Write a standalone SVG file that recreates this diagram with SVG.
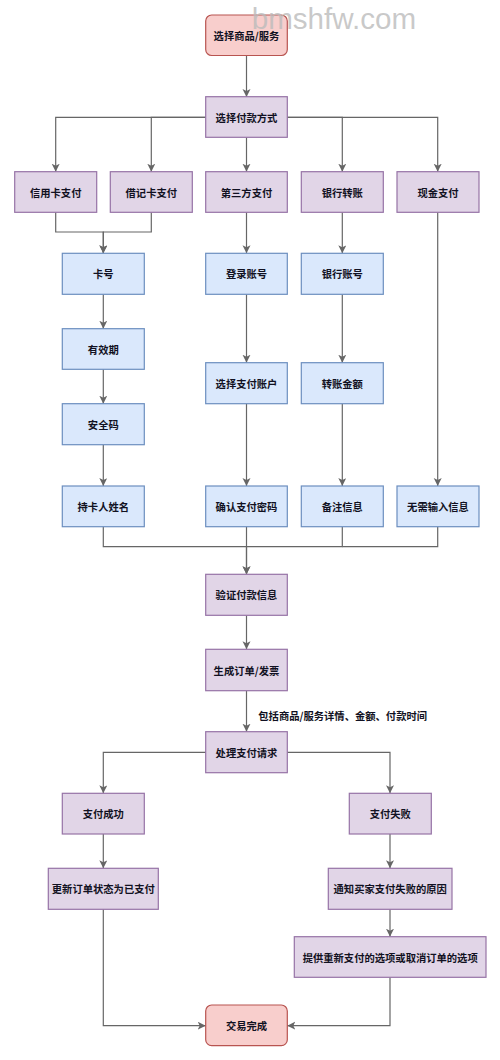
<svg xmlns="http://www.w3.org/2000/svg" width="500" height="1060" viewBox="0 0 500 1060">
<style>
.p{fill:#e1d5e7;stroke:#9673a6;stroke-width:1.2}
.b{fill:#dae8fc;stroke:#6c8ebf;stroke-width:1.2}
.r{fill:#f8cecc;stroke:#b85450;stroke-width:1.2}
.t{font-family:"Noto Sans CJK SC","Noto Sans",sans-serif;font-size:10.3px;font-weight:700;fill:#111122;text-anchor:middle;dominant-baseline:central}
.c{fill:none;stroke:#666666;stroke-width:1.2}
.a{marker-end:url(#ar)}
</style>
<defs>
<marker id="ar" markerUnits="userSpaceOnUse" markerWidth="10" markerHeight="10" refX="8" refY="4" orient="auto">
<path d="M0,0 L8,4 L0,8 L2,4 z" fill="#666666"/>
</marker>
</defs>
<rect width="500" height="1060" fill="#ffffff"/>
<g id="connectors">
<path class="c a" d="M246.5,55 V97"/>
<path class="c a" d="M206,117.3 H55.7 V171.7"/>
<path class="c a" d="M206,117.3 H151.3 V171.7"/>
<path class="c a" d="M287.3,117.3 H437.7 V171.7"/>
<path class="c a" d="M287.3,117.3 H342.3 V171.7"/>
<path class="c a" d="M246.5,137.3 V171.7"/>
<path class="c a" d="M55.7,212.3 V232 H103.3 V253.3"/>
<path class="c a" d="M151.3,212.3 V232 H103.3 V253.3"/>
<path class="c a" d="M246.5,212.3 V253.3"/>
<path class="c a" d="M342.3,212.3 V253.3"/>
<path class="c a" d="M437.7,212.3 V486"/>
<path class="c a" d="M103.3,294.3 V328.7"/>
<path class="c a" d="M103.3,369.3 V403.7"/>
<path class="c a" d="M103.3,444.7 V486"/>
<path class="c a" d="M246.5,294.3 V362.7"/>
<path class="c a" d="M246.5,403.7 V486"/>
<path class="c a" d="M342.3,294.3 V362.7"/>
<path class="c a" d="M342.3,403.7 V486"/>
<path class="c a" d="M103.3,526.7 V546.7 H246.5 V574.3"/>
<path class="c" d="M342.3,526.7 V546.7 H246.5"/>
<path class="c" d="M437.7,526.7 V546.7 H342.3"/>
<path class="c a" d="M246.5,526.7 V574.3"/>
<path class="c a" d="M246.5,615.3 V649.3"/>
<path class="c a" d="M246.5,690.7 V731.7"/>
<path class="c a" d="M206,752.3 H103.3 V793.3"/>
<path class="c a" d="M287.3,752.3 H390 V793.3"/>
<path class="c a" d="M103.3,834 V868.3"/>
<path class="c a" d="M390,834 V868.3"/>
<path class="c a" d="M390,909.3 V936.7"/>
<path class="c a" d="M103.3,909.3 V1025.7 H205.7"/>
<path class="c a" d="M390,977.3 V1025.7 H287.3"/>
<text class="t" x="258.3" y="715" style="text-anchor:start">包括商品/服务详情、金额、付款时间</text>
</g>
<g id="n1"><rect class="r" x="205.7" y="15" width="81.6" height="40.5" rx="6"/><text class="t" x="246.5" y="35.2">选择商品/服务</text></g>
<g id="n2"><rect class="p" x="205.7" y="96.7" width="81.6" height="40.6"/><text class="t" x="246.5" y="117">选择付款方式</text></g>
<g id="n3"><rect class="p" x="14.7" y="171.7" width="82" height="40.6"/><text class="t" x="55.7" y="192">信用卡支付</text></g>
<g id="n4"><rect class="p" x="110.3" y="171.7" width="82" height="40.6"/><text class="t" x="151.3" y="192">借记卡支付</text></g>
<g id="n5"><rect class="p" x="205.7" y="171.7" width="81.6" height="40.6"/><text class="t" x="246.5" y="192">第三方支付</text></g>
<g id="n6"><rect class="p" x="301.3" y="171.7" width="82" height="40.6"/><text class="t" x="342.3" y="192">银行转账</text></g>
<g id="n7"><rect class="p" x="397" y="171.7" width="82" height="40.6"/><text class="t" x="438" y="192">现金支付</text></g>
<g id="n8"><rect class="b" x="62.3" y="253.3" width="82" height="41"/><text class="t" x="103.3" y="273.8">卡号</text></g>
<g id="n9"><rect class="b" x="205.7" y="253.3" width="81.6" height="41"/><text class="t" x="246.5" y="273.8">登录账号</text></g>
<g id="n10"><rect class="b" x="301.3" y="253.3" width="82" height="41"/><text class="t" x="342.3" y="273.8">银行账号</text></g>
<g id="n11"><rect class="b" x="62.3" y="328.7" width="82" height="40.6"/><text class="t" x="103.3" y="349">有效期</text></g>
<g id="n12"><rect class="b" x="205.7" y="362.7" width="81.6" height="41"/><text class="t" x="246.5" y="383.2">选择支付账户</text></g>
<g id="n13"><rect class="b" x="301.3" y="362.7" width="82" height="41"/><text class="t" x="342.3" y="383.2">转账金额</text></g>
<g id="n14"><rect class="b" x="62.3" y="403.7" width="82" height="41"/><text class="t" x="103.3" y="424.2">安全码</text></g>
<g id="n15"><rect class="b" x="62.3" y="486" width="82" height="40.7"/><text class="t" x="103.3" y="506.3">持卡人姓名</text></g>
<g id="n16"><rect class="b" x="205.7" y="486" width="81.6" height="40.7"/><text class="t" x="246.5" y="506.3">确认支付密码</text></g>
<g id="n17"><rect class="b" x="301.3" y="486" width="82" height="40.7"/><text class="t" x="342.3" y="506.3">备注信息</text></g>
<g id="n18"><rect class="b" x="397" y="486" width="82" height="40.7"/><text class="t" x="438" y="506.3">无需输入信息</text></g>
<g id="n19"><rect class="p" x="205.7" y="574.3" width="81.6" height="41"/><text class="t" x="246.5" y="594.8">验证付款信息</text></g>
<g id="n20"><rect class="p" x="205.7" y="649.3" width="81.6" height="41.4"/><text class="t" x="246.5" y="670">生成订单/发票</text></g>
<g id="n21"><rect class="p" x="205.7" y="731.7" width="81.6" height="41"/><text class="t" x="246.5" y="752.2">处理支付请求</text></g>
<g id="n22"><rect class="p" x="62.3" y="793.3" width="82" height="40.7"/><text class="t" x="103.3" y="813.6">支付成功</text></g>
<g id="n23"><rect class="p" x="349.3" y="793.3" width="82" height="40.7"/><text class="t" x="390.3" y="813.6">支付失败</text></g>
<g id="n24"><rect class="p" x="48.3" y="868.3" width="110" height="41"/><text class="t" x="103.3" y="888.8">更新订单状态为已支付</text></g>
<g id="n25"><rect class="p" x="328.3" y="868.3" width="123.7" height="41"/><text class="t" x="390.2" y="888.8">通知买家支付失败的原因</text></g>
<g id="n26"><rect class="p" x="294.3" y="936.7" width="191.7" height="40.6"/><text class="t" x="390.2" y="957">提供重新支付的选项或取消订单的选项</text></g>
<g id="n27"><rect class="r" x="205.7" y="1005" width="81.6" height="40.7" rx="6"/><text class="t" x="246.5" y="1025.4">交易完成</text></g>
<text x="251.7" y="28.5" style="font-family:'Liberation Sans',Arial,sans-serif;font-size:29.6px;fill:#bbbbbb;fill-opacity:0.8">bmshfw.com</text>
</svg>
